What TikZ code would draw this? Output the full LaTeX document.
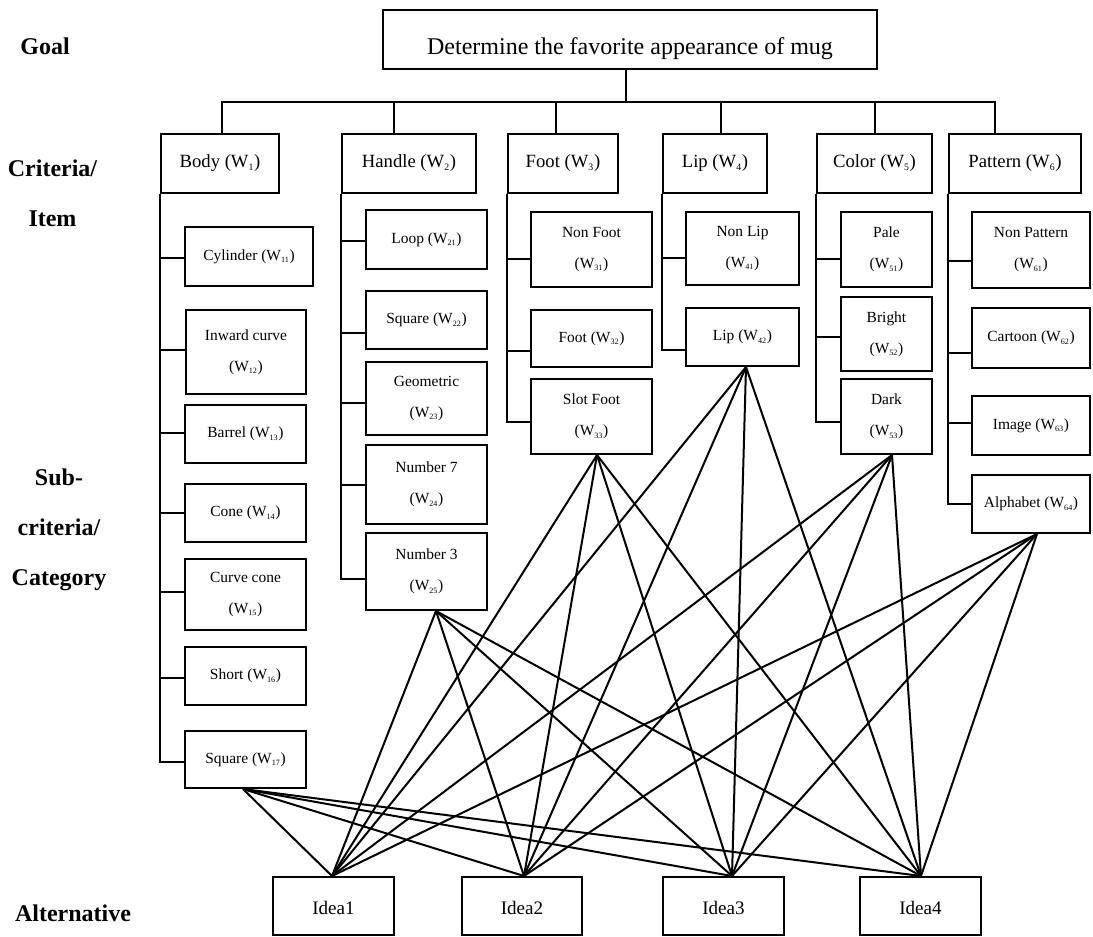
\documentclass[tikz,border=0pt]{standalone}
\usepackage{fontspec}
\usepackage{graphicx}
\setmainfont{Liberation Serif}
\usetikzlibrary{calc}
\newcommand{\wt}[1]{(W\textsubscript{\scalebox{0.75}{#1}})}

\begin{document}
\begin{tikzpicture}[x=0.75pt,y=-0.75pt,
  every node/.style={inner sep=0pt},
  box/.style={draw, line width=1.5pt},
  sz/.style 2 args={minimum width=#1*0.75pt, minimum height=#2*0.75pt},
  goalbox/.style={box, font=\fontsize{18}{22}\selectfont},
  critbox/.style={box, font=\fontsize{14}{17}\selectfont},
  subbox/.style={box, align=center, font=\fontsize{11.6}{23.25}\selectfont},
  ideabox/.style={box, font=\fontsize{14.3}{17}\selectfont, text height=12.5pt, text depth=0pt},
  lvl/.style={align=center, font=\bfseries\fontsize{18}{37.5}\selectfont},
  wire/.style={line width=1.5pt}
]
\useasboundingbox (0,0) rectangle (1093,936);

% level labels
\node[lvl] (lgoal) at (45,46) {Goal};
\node[lvl] (lcrit) at (52.5,193) {Criteria/\\Item};
\node[lvl] (lsub)  at (59,530) {Sub-\\criteria/\\Category};
\node[lvl] (lalt)  at (73,913) {Alternative};

% goal
\node[goalbox, sz={494}{59}, text height=22.5pt, text depth=0pt] (goal) at (630,39.5)
  {Determine the favorite appearance of mug};

% criteria
\node[critbox, sz={118}{59}] (c1) at (220,163.5)   {Body \wt{1}};
\node[critbox, sz={134}{59}] (c2) at (409,163.5)   {Handle \wt{2}};
\node[critbox, sz={110}{59}] (c3) at (563,163.5)   {Foot \wt{3}};
\node[critbox, sz={104}{59}] (c4) at (715,163.5)   {Lip \wt{4}};
\node[critbox, sz={115}{59}] (c5) at (874.5,163.5) {Color \wt{5}};
\node[critbox, sz={132}{59}] (c6) at (1015,163.5)  {Pattern \wt{6}};

% sub-criteria: body
\node[subbox, sz={128}{59}] (s11) at (249,256.5)   {Cylinder \wt{11}};
\node[subbox, sz={120}{84}] (s12) at (246,352)     {Inward curve\\\wt{12}};
\node[subbox, sz={121}{58}] (s13) at (245.5,434)   {Barrel \wt{13}};
\node[subbox, sz={121}{58}] (s14) at (245.5,513)   {Cone \wt{14}};
\node[subbox, sz={121}{71}] (s15) at (245.5,594.5) {Curve cone\\\wt{15}};
\node[subbox, sz={121}{58}] (s16) at (245.5,676)   {Short \wt{16}};
\node[subbox, sz={121}{57}] (s17) at (245.5,759.5) {Square \wt{17}};

% sub-criteria: handle
\node[subbox, sz={121}{59}] (s21) at (426.5,239.5) {Loop \wt{21}};
\node[subbox, sz={121}{58}] (s22) at (426.5,320)   {Square \wt{22}};
\node[subbox, sz={121}{73}] (s23) at (426.5,398.5) {Geometric\\\wt{23}};
\node[subbox, sz={121}{79}] (s24) at (426.5,484.5) {Number 7\\\wt{24}};
\node[subbox, sz={121}{77}] (s25) at (426.5,571.5) {Number 3\\\wt{25}};

% sub-criteria: foot
\node[subbox, sz={121}{75}] (s31) at (591.5,249.5) {Non Foot\\\wt{31}};
\node[subbox, sz={121}{57}] (s32) at (591.5,338.5) {Foot \wt{32}};
\node[subbox, sz={121}{75}] (s33) at (591.5,416.5) {Slot Foot\\\wt{33}};

% sub-criteria: lip
\node[subbox, sz={113}{73}] (s41) at (742.5,248.5) {Non Lip\\\wt{41}};
\node[subbox, sz={113}{58}] (s42) at (742.5,337)   {Lip \wt{42}};

% sub-criteria: color
\node[subbox, sz={91}{75}] (s51) at (886.5,249.5) {Pale\\\wt{51}};
\node[subbox, sz={91}{74}] (s52) at (886.5,334)   {Bright\\\wt{52}};
\node[subbox, sz={91}{75}] (s53) at (886.5,416.5) {Dark\\\wt{53}};

% sub-criteria: pattern
\node[subbox, sz={118}{76}] (s61) at (1031,250)   {Non Pattern\\\wt{61}};
\node[subbox, sz={118}{60}] (s62) at (1031,338)   {Cartoon \wt{62}};
\node[subbox, sz={118}{59}] (s63) at (1031,425.5) {Image \wt{63}};
\node[subbox, sz={118}{58}] (s64) at (1031,504)   {Alphabet \wt{64}};

% alternatives
\node[ideabox, sz={121}{58}] (i1) at (333.5,906) {Idea1};
\node[ideabox, sz={120}{58}] (i2) at (522,906)   {Idea2};
\node[ideabox, sz={121}{58}] (i3) at (723.5,906) {Idea3};
\node[ideabox, sz={121}{58}] (i4) at (920.5,906) {Idea4};

% goal to criteria bus
\coordinate (bus) at (626,102);
\draw[wire] ($(goal.south)+(-4,0)$) -- (bus);
\draw[wire] ($(c1.north)+(2,0)$) |- (bus) -| ($(c6.north)+(-20,0)$);
\draw[wire] ($(c2.north)+(-15,0)$) |- (bus);
\draw[wire] ($(c3.north)+(-7,0)$) |- (bus);
\draw[wire] ($(c4.north)+(6,0)$) |- (bus);
\draw[wire] ($(c5.north)+(0.5,0)$) |- (bus);

% criteria to sub-criteria spines
\foreach \c/\s/\dy in {c1/s11/1.5, c1/s12/-2, c1/s13/-1, c1/s14/0, c1/s15/-2.5, c1/s16/2, c1/s17/2.5,
                       c2/s21/1.5, c2/s22/13, c2/s23/4.5, c2/s24/0.5, c2/s25/7.5,
                       c3/s31/9.5, c3/s32/12.5, c3/s33/5.5,
                       c4/s41/9.5, c4/s42/13,
                       c5/s51/9.5, c5/s52/3, c5/s53/5.5,
                       c6/s61/11, c6/s62/15, c6/s63/-2.5, c6/s64/0}
  \draw[wire] (\c.south west) |- ($(\s.west)+(0,\dy)$);

% sub-criteria to alternatives
\foreach \s/\sx in {s17/-2.5, s25/9.5, s33/5.5, s42/3.5, s53/5.5, s64/6}
  \foreach \t/\tx in {i1/-1.5, i2/2, i3/8.5, i4/0.5}
    \draw[wire] ($(\s.south)+(\sx,0)$) -- ($(\t.north)+(\tx,0)$);
\end{tikzpicture}
\end{document}
